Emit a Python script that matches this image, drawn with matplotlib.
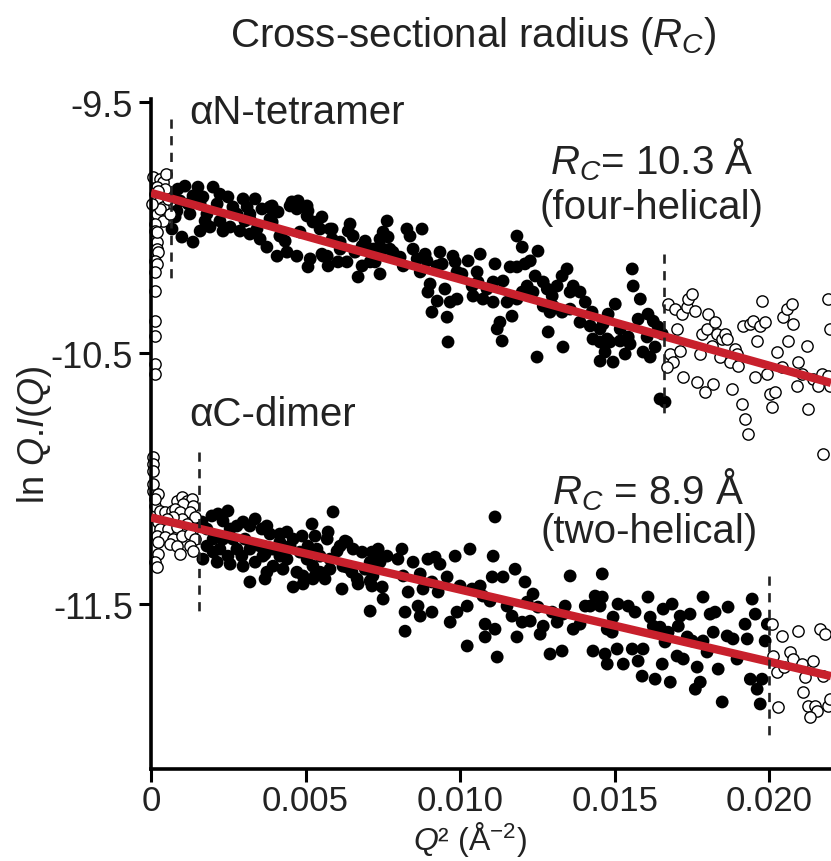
import numpy as np
import matplotlib.pyplot as plt

plt.rcParams['font.family'] = ['Liberation Sans', 'DejaVu Sans']
plt.rcParams['mathtext.fontset'] = 'custom'
plt.rcParams['mathtext.rm'] = 'Liberation Sans'
plt.rcParams['mathtext.it'] = 'Liberation Sans:italic'

# Q^2 values are given in units of 1e-3 A^-2, ln Q.I(Q)
# alphaN-tetramer, points inside the fitted range (filled)
tet_in_q2 = [0.68, 1.00, 1.36, 1.10, 1.52, 2.01, 1.68, 2.49, 2.98, 3.37, 0.84, 1.26, 1.81, 2.23, 2.56,
             2.88, 3.20, 3.53, 3.75, 2.14, 2.65, 3.11, 0.94, 1.36, 0.71, 0.78, 1.59, 1.91, 2.33, 2.78,
             1.20, 1.59, 0.87, 2.23, 3.20, 3.59, 1.75, 3.04, 4.56, 4.72, 5.05, 5.53, 5.24, 5.86, 6.44,
             6.54, 6.83, 7.18, 7.09, 6.70, 6.34, 5.70, 6.12, 4.82, 4.17, 4.40, 4.08, 3.43, 3.20, 3.92,
             3.95, 3.85, 5.05, 5.37, 5.53, 5.15, 6.12, 7.18, 7.41, 4.76, 4.50, 5.08, 5.47, 5.79, 6.38,
             5.86, 5.57, 5.08, 4.72, 4.34, 5.73, 6.05, 6.60, 6.93, 6.83, 7.25, 7.51, 3.92, 4.11, 3.85,
             7.64, 7.51, 7.67, 7.41, 7.25, 7.73, 8.28, 8.38, 8.77, 7.83, 8.06, 8.16, 8.48, 8.61, 8.87,
             8.93, 8.71, 9.03, 8.96, 9.26, 9.09, 9.35, 9.42, 9.26, 9.77, 9.84, 9.90, 9.51, 9.68, 9.90,
             9.58, 9.61, 10.06, 10.26, 10.55, 10.39, 10.65, 10.58, 10.42, 10.74, 10.87, 11.07, 11.13,
             11.07, 11.39, 11.52, 11.68, 11.29, 11.20, 11.36, 11.84, 12.01, 11.62, 11.84, 12.10, 12.27,
             11.84, 12.01, 12.17, 12.43, 12.36, 12.69, 12.82, 12.98, 13.14, 13.30, 13.46, 13.56, 13.66,
             13.88, 14.05, 12.69, 13.01, 12.91, 13.30, 13.56, 13.88, 14.21, 14.27, 14.53, 14.30, 14.53,
             14.76, 14.69, 14.53, 12.85, 13.33, 12.49, 12.52, 14.63, 14.79, 15.02, 14.85, 14.95, 15.18,
             15.44, 15.34, 15.50, 15.57, 15.60, 15.83, 15.76, 16.08, 16.25, 16.41, 16.05, 15.92, 16.31,
             16.15, 16.54, 16.47, 16.63, 15.18]
tet_in_ln = [-10.006, -10.038, -10.058, -9.835, -9.839, -9.839, -9.878, -9.878, -9.886, -9.886, -9.934,
             -9.946, -9.946, -9.974, -9.998, -10.014, -10.026, -10.046, -10.078, -9.906, -9.918, -9.918,
             -9.894, -9.874, -9.874, -9.958, -10.014, -9.998, -10.014, -9.946, -9.906, -9.906, -9.847,
             -9.867, -9.946, -9.926, -9.974, -9.974, -9.898, -9.926, -9.954, -9.958, -9.978, -10.006,
             -9.986, -10.034, -10.074, -10.086, -10.137, -10.197, -10.137, -10.114, -10.086, -10.018,
             -10.034, -10.098, -10.114, -10.006, -9.966, -9.978, -9.934, -9.918, -9.914, -9.978, -10.106,
             -10.125, -10.058, -10.114, -10.185, -9.894, -9.914, -9.934, -10.006, -10.006, -10.014,
             -10.046, -10.114, -10.157, -10.114, -10.054, -10.153, -10.137, -10.098, -10.054, -10.153,
             -10.137, -10.086, -9.914, -9.938, -9.966, -9.974, -10.018, -10.038, -10.046, -10.086,
             -10.086, -10.006, -10.034, -10.006, -10.098, -10.118, -10.153, -10.086, -10.125, -10.106,
             -10.133, -10.177, -10.225, -10.257, -10.293, -10.337, -10.098, -10.145, -10.153, -10.114,
             -10.137, -10.177, -10.245, -10.297, -10.285, -10.357, -10.456, -10.185, -10.133, -10.177,
             -10.233, -10.106, -10.217, -10.273, -10.285, -10.245, -10.217, -10.145, -10.297, -10.213,
             -10.297, -10.353, -10.377, -10.404, -10.452, -10.034, -10.078, -10.157, -10.157, -10.145,
             -10.133, -10.285, -10.257, -10.233, -10.193, -10.257, -10.217, -10.245, -10.273, -10.233,
             -10.193, -10.165, -10.257, -10.233, -10.257, -10.297, -10.313, -10.313, -10.337, -10.337,
             -10.325, -10.377, -10.392, -10.337, -10.404, -10.444, -10.456, -10.444, -10.496, -10.532,
             -10.416, -10.476, -10.516, -10.094, -10.384, -10.345, -10.305, -10.456, -10.536, -10.452,
             -10.436, -10.504, -10.464, -10.165, -10.233, -10.285, -10.365, -10.345, -10.373, -10.396,
             -10.436, -10.496, -10.476, -10.516, -10.424, -10.683, -10.695, -10.404]

# alphaN-tetramer, points outside the fitted range (open)
tet_out_q2 = [0.06, 0.29, 0.39, 0.19, 0.13, 0.29, 0.39, 0.19, 0.39, 0.13, 0.13, 0.19, 0.19, 0.23, 0.13,
              0.19, 0.13, 0.13, 0.13, 0.13, 0.13, 0.13, 0.45, 0.55, 0.29, 0.61, 0.03, 0.19, 0.23, 0.49,
              16.73, 16.96, 17.18, 17.35, 17.38, 17.51, 17.61, 17.02, 16.80, 16.89, 16.70, 17.12, 17.22,
              17.77, 17.83, 17.99, 18.03, 18.25, 18.32, 18.48, 18.58, 18.64, 18.16, 18.41, 18.74, 18.90,
              18.96, 19.00, 18.80, 19.13, 19.22, 19.32, 18.19, 17.93, 17.67, 19.16, 19.39, 19.48, 19.71,
              19.87, 19.61, 19.55, 19.94, 19.77, 20.45, 20.58, 20.74, 20.78, 20.61, 20.26, 20.42, 20.94,
              21.23, 20.03, 20.19, 20.10, 20.91, 21.07, 21.26, 21.42, 21.59, 21.72, 21.91, 21.97, 21.97,
              21.75, 21.91]
tet_out_ln = [-9.799, -9.807, -9.819, -9.839, -9.867, -9.894, -9.918, -9.946, -9.974, -9.986, -10.014,
              -10.058, -10.086, -10.098, -10.133, -10.145, -10.177, -10.253, -10.373, -10.432, -10.544,
              -10.584, -9.847, -9.886, -9.926, -9.946, -9.906, -10.018, -9.855, -9.787,
              -10.305, -10.325, -10.345, -10.317, -10.285, -10.265, -10.333, -10.404, -10.504, -10.536,
              -10.556, -10.492, -10.596, -10.504, -10.424, -10.404, -10.345, -10.377, -10.424, -10.444,
              -10.424, -10.444, -10.472, -10.516, -10.536, -10.484, -10.504, -10.552, -10.643, -10.703,
              -10.763, -10.823, -10.624, -10.655, -10.616, -10.392, -10.384, -10.373, -10.392, -10.377,
              -10.452, -10.596, -10.584, -10.293, -10.357, -10.325, -10.305, -10.384, -10.452, -10.496,
              -10.556, -10.536, -10.472, -10.663, -10.655, -10.715, -10.631, -10.584, -10.723, -10.604,
              -10.631, -10.584, -10.592, -10.631, -10.404, -10.902, -10.285]

# alphaC-dimer, points inside the fitted range (filled)
dim_in_q2 = [1.65, 1.81, 1.97, 2.17, 2.49, 2.33, 2.56, 2.78, 2.98, 3.20, 3.37, 3.59, 3.75, 1.81, 2.01,
             2.23, 2.49, 2.78, 2.94, 3.20, 3.53, 2.01, 2.33, 2.65, 3.04, 1.68, 2.14, 2.56, 2.98, 3.37,
             3.69, 2.30, 3.85, 4.17, 4.40, 4.17, 4.50, 4.89, 5.21, 5.73, 5.70, 5.89, 6.12, 6.34, 6.54,
             6.83, 7.09, 7.31, 7.18, 4.82, 5.05, 5.24, 5.47, 5.63, 5.24, 4.92, 4.72, 4.60, 4.27, 3.95,
             3.75, 3.69, 3.20, 4.17, 5.47, 6.18, 6.34, 6.67, 7.09, 7.09, 5.79, 3.95, 4.40, 3.62, 4.60,
             5.08, 5.31, 5.37, 6.02, 6.28, 7.15, 7.35, 7.41, 6.93, 7.18, 7.48, 6.70, 5.31, 4.92, 5.79,
             6.21, 6.50, 7.64, 7.15, 7.51, 8.12, 7.99, 8.16, 8.32, 8.22, 8.22, 8.48, 8.71, 8.96, 9.19,
             9.35, 9.09, 8.80, 8.64, 8.71, 9.09, 9.58, 9.29, 9.68, 9.84, 10.00, 9.90, 10.23, 10.23, 10.32,
             10.39, 10.65, 10.74, 10.81, 11.07, 11.04, 11.13, 10.97, 10.81, 11.13, 11.20, 11.39, 11.78,
             11.52, 11.68, 11.84, 12.01, 12.17, 12.36, 12.27, 12.52, 12.69, 12.59, 12.91, 13.30, 12.98,
             13.14, 13.33, 13.40, 13.56, 13.66, 13.88, 14.05, 14.21, 14.37, 14.53, 14.60, 14.76, 14.30,
             14.76, 12.10, 14.60, 15.11, 15.44, 15.66, 14.95, 14.92, 14.69, 15.28, 15.08, 15.57, 15.76,
             15.92, 15.89, 16.15, 16.25, 16.47, 16.08, 16.57, 16.86, 17.12, 17.44, 17.06, 16.73, 16.63,
             17.02, 16.54, 16.31, 16.80, 17.35, 17.51, 17.67, 17.77, 17.61, 17.86, 18.09, 18.25, 18.19,
             17.99, 18.35, 18.48, 18.67, 18.64, 18.83, 18.96, 19.22, 19.29, 19.45, 19.55, 19.39, 19.61,
             19.71, 19.77, 19.87, 19.94, 17.86, 17.22]
dim_in_ln = [-11.173, -11.201, -11.149, -11.141, -11.129, -11.169, -11.201, -11.189, -11.173, -11.189,
             -11.161, -11.201, -11.189, -11.269, -11.293, -11.281, -11.309, -11.281, -11.309, -11.281,
             -11.269, -11.241, -11.241, -11.241, -11.241, -11.321, -11.333, -11.341, -11.349, -11.333,
             -11.301, -11.149, -11.221, -11.221, -11.213, -11.253, -11.269, -11.229, -11.181, -11.213,
             -11.241, -11.133, -11.269, -11.253, -11.281, -11.293, -11.333, -11.309, -11.349, -11.293,
             -11.321, -11.349, -11.373, -11.400, -11.400, -11.388, -11.373, -11.432, -11.361, -11.349,
             -11.373, -11.400, -11.412, -11.309, -11.309, -11.440, -11.353, -11.400, -11.408, -11.528,
             -11.321, -11.281, -11.321, -11.309, -11.241, -11.269, -11.229, -11.281, -11.289, -11.249,
             -11.293, -11.281, -11.333, -11.361, -11.388, -11.432, -11.420, -11.388, -11.420, -11.361,
             -11.349, -11.373, -11.309, -11.428, -11.480, -11.281, -11.321, -11.388, -11.452, -11.532,
             -11.608, -11.333, -11.380, -11.321, -11.313, -11.341, -11.412, -11.440, -11.508, -11.548,
             -11.532, -11.392, -11.452, -11.572, -11.309, -11.428, -11.532, -11.508, -11.667, -11.281,
             -11.440, -11.428, -11.468, -11.580, -11.309, -11.392, -11.153, -11.488, -11.631, -11.600,
             -11.711, -11.392, -11.361, -11.508, -11.548, -11.631, -11.572, -11.492, -11.460, -11.568,
             -11.512, -11.588, -11.620, -11.699, -11.687, -11.532, -11.572, -11.540, -11.508, -11.388,
             -11.600, -11.580, -11.508, -11.508, -11.468, -11.508, -11.380, -11.600, -11.687, -11.739,
             -11.412, -11.472, -11.500, -11.508, -11.532, -11.552, -11.612, -11.699, -11.739, -11.679,
             -11.679, -11.727, -11.679, -11.787, -11.552, -11.588, -11.592, -11.472, -11.520, -11.500,
             -11.548, -11.540, -11.588, -11.612, -11.651, -11.707, -11.739, -11.799, -11.811, -11.631,
             -11.647, -11.751, -11.811, -11.839, -11.472, -11.540, -11.532, -11.612, -11.691, -11.759,
             -11.890, -11.512, -11.627, -11.639, -11.719, -11.580, -11.639, -11.480, -11.540, -11.799,
             -11.839, -11.898, -11.799, -11.647, -11.580, -11.647, -11.719]

# alphaC-dimer, points outside the fitted range (open)
dim_out_q2 = [0.06, 0.06, 0.06, 0.06, 0.23, 0.13, 0.29, 0.45, 0.68, 0.84, 1.00, 1.17, 1.33, 1.04, 1.36,
              0.78, 0.94, 1.26, 1.42, 1.00, 0.71, 0.52, 0.23, 0.29, 0.55, 0.84, 1.17, 1.36, 0.19, 0.45,
              0.71, 1.00, 1.26, 1.42, 0.23, 0.61, 0.84, 1.26, 1.36, 0.94, 0.23, 0.13, 0.19, 0.13, 0.06,
              20.10, 20.13, 20.42, 20.26, 20.49, 20.29, 20.68, 20.78, 20.94, 21.07, 21.17, 21.10, 21.42,
              21.65, 21.81, 21.75, 21.26, 21.49, 21.55, 21.33, 21.91, 21.97]
dim_out_ln = [-10.914, -10.942, -10.970, -11.050, -11.062, -11.110, -11.129, -11.133, -11.129, -11.090,
              -11.074, -11.090, -11.082, -11.102, -11.110, -11.122, -11.133, -11.133, -11.153, -11.161,
              -11.153, -11.161, -11.173, -11.201, -11.201, -11.193, -11.181, -11.201, -11.229, -11.233,
              -11.241, -11.229, -11.221, -11.241, -11.253, -11.261, -11.269, -11.269, -11.289, -11.301,
              -11.301, -11.333, -11.353, -11.082, -11.022,
              -11.580, -11.707, -11.627, -11.771, -11.751, -11.910, -11.691, -11.719, -11.608, -11.739,
              -11.791, -11.851, -11.727, -11.600, -11.620, -11.787, -11.906, -11.906, -11.926, -11.950,
              -11.906, -11.878]

# Guinier fits: ln Q.I(Q) at Q^2 = 0 and at Q^2 = 0.022
fit_q2 = [0.0, 0.022]
tet_fit = [-9.862, -10.619]
dim_fit = [-11.155, -11.787]

# fit range limits (Q^2) and the extent of the dashed markers
tet_limits = [0.00065, 0.0166]
tet_limit_ln = [(-9.568, -10.205), (-10.106, -10.751)]
dim_limits = [0.00155, 0.0200]
dim_limit_ln = [(-10.894, -11.540), (-11.388, -12.030)]

fig = plt.figure(figsize=(8.31, 8.62), dpi=100)
ax = fig.add_axes([151 / 831, 1 - 770 / 862, 680 / 831, 670 / 862])

scale = 1e-3
for q2, ln in [(tet_in_q2, tet_in_ln), (dim_in_q2, dim_in_ln)]:
    ax.scatter(np.array(q2) * scale, ln, s=85, c='black', edgecolors='none', zorder=2, clip_on=False)
for q2, ln in [(tet_out_q2, tet_out_ln), (dim_out_q2, dim_out_ln)]:
    ax.scatter(np.array(q2) * scale, ln, s=66, facecolors='white', edgecolors='black',
               linewidths=1.0, zorder=2, clip_on=False)

red = '#c8202c'
ax.plot(fit_q2, tet_fit, color=red, lw=6, solid_capstyle='butt', zorder=4)
ax.plot(fit_q2, dim_fit, color=red, lw=6, solid_capstyle='butt', zorder=4)

for x, (y0, y1) in zip(tet_limits + dim_limits, tet_limit_ln + dim_limit_ln):
    ax.plot([x, x], [y0, y1], color='#222222', lw=1.9, ls=(0, (3.5, 2.8)), zorder=5)

ax.set_xlim(0, 0.022)
ax.set_ylim(-12.157, -9.488)
ax.set_xticks([0, 0.005, 0.010, 0.015, 0.020])
ax.set_xticklabels(['0', '0.005', '0.010', '0.015', '0.020'])
ax.set_yticks([-9.5, -10.5, -11.5])
ax.set_yticklabels(['-9.5', '-10.5', '-11.5'])
ax.tick_params(direction='out', length=9, width=2.2, labelsize=26, pad=4, colors='black')
ax.tick_params(axis='x', labelsize=25, pad=2)
ax.tick_params(axis='y', labelcolor='#222222')
ax.tick_params(axis='x', labelcolor='#222222')
for side in ['top', 'right']:
    ax.spines[side].set_visible(False)
for side in ['left', 'bottom']:
    ax.spines[side].set_linewidth(2.6)

txt = '#222222'
ax.text(0.00125, -9.54, 'αN-tetramer', fontsize=29, color=txt, ha='left', va='center')
ax.text(0.00125, -10.743, 'αC-dimer', fontsize=29, color=txt, ha='left', va='center')
ax.text(0.0162, -9.727, '$R_C$= 10.3 Å', fontsize=29, color=txt, ha='center', va='center')
ax.text(0.0162, -9.918, '(four-helical)', fontsize=29, color=txt, ha='center', va='center')
ax.text(0.0161, -11.042, '$R_C$ = 8.9 Å', fontsize=29, color=txt, ha='center', va='center')
ax.text(0.0161, -11.209, '(two-helical)', fontsize=29, color=txt, ha='center', va='center')

fig.text(473 / 831, 1 - 36 / 862, 'Cross-sectional radius ($R_C$)', fontsize=29, color=txt,
         ha='center', va='center')
fig.text(35 / 831, 1 - 435 / 862, 'ln $Q$.$I$($Q$)', fontsize=26, color=txt, rotation=90,
         ha='center', va='center')
fig.text(470 / 831, 1 - 850 / 862, '$Q$² (Å$^{\\mathrm{-2}}$)', fontsize=23, color=txt,
         ha='center', va='baseline')

fig.savefig('out.png', dpi=100)
